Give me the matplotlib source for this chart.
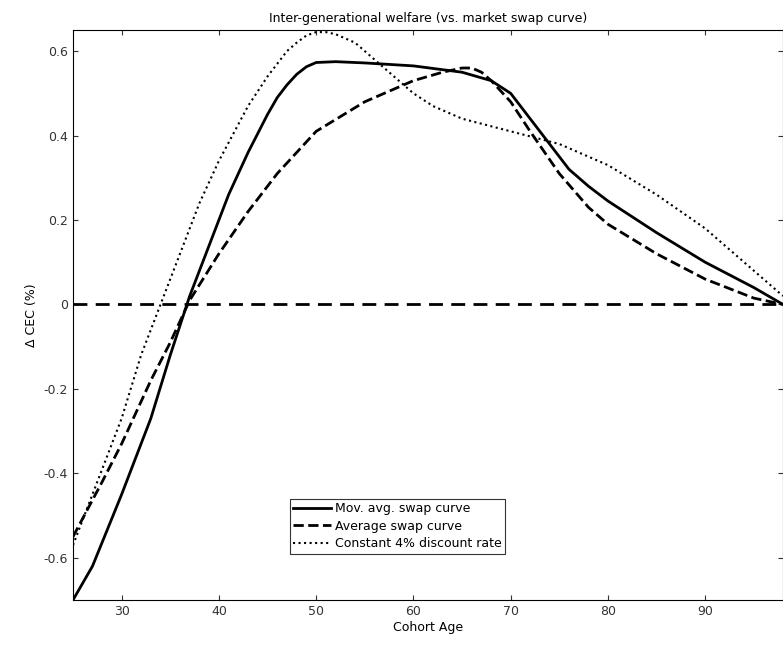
import matplotlib
matplotlib.use("Agg")
import matplotlib.pyplot as plt

mov_x = [25,27,30,33,35,37,39,41,43,45,46,47,48,49,50,52,55,60,65,68,70,72,74,76,78,80,85,90,95,98]
mov_y = [-0.70,-0.62,-0.45,-0.27,-0.12,0.02,0.14,0.26,0.36,0.45,0.49,0.52,0.545,0.563,0.573,0.575,0.572,0.565,0.55,0.53,0.50,0.44,0.38,0.32,0.28,0.245,0.17,0.10,0.04,0.0]
avg_x = [25,28,30,33,35,37,40,43,46,50,55,60,63,65,66,67,68,70,72,75,78,80,85,90,95,98]
avg_y = [-0.55,-0.42,-0.33,-0.18,-0.09,0.01,0.12,0.22,0.31,0.41,0.48,0.53,0.55,0.56,0.56,0.55,0.53,0.48,0.41,0.31,0.23,0.19,0.12,0.06,0.015,0.0]
con_x = [25,27,30,32,34,36,38,40,43,45,46,47,48,49,50,51,52,54,56,58,60,62,65,70,75,80,85,90,95,98]
con_y = [-0.57,-0.45,-0.27,-0.12,0.0,0.12,0.24,0.34,0.47,0.54,0.57,0.60,0.62,0.637,0.645,0.645,0.64,0.62,0.58,0.54,0.50,0.47,0.44,0.41,0.38,0.33,0.26,0.18,0.08,0.02]

fig = plt.figure(figsize=(7.83,6.46), dpi=100)
ax = fig.add_axes([73/783, 46/646, 710/783, 570/646])
ax.plot(mov_x, mov_y, 'k-', lw=2, label='Mov. avg. swap curve', solid_joinstyle='round')
ax.plot(avg_x, avg_y, 'k--', lw=2, label='Average swap curve')
ax.plot(con_x, con_y, 'k:', lw=1.5, label='Constant 4% discount rate')
ax.axhline(0, color='k', ls='--', lw=2, dashes=(5,3))
ax.set_xlim(25,98)
ax.set_ylim(-0.7,0.65)
ax.set_xticks([30,40,50,60,70,80,90])
ax.set_yticks([-0.6,-0.4,-0.2,0,0.2,0.4,0.6])
ax.set_yticklabels(['-0.6','-0.4','-0.2','0','0.2','0.4','0.6'])
ax.tick_params(direction='in', labelsize=9, colors='#333333', top=True, right=True)
ax.set_xlabel('Cohort Age', fontsize=9, labelpad=2)
ax.set_ylabel('Δ CEC (%)', fontsize=9)
ax.set_title('Inter-generational welfare (vs. market swap curve)', fontsize=9)
leg = ax.legend(loc='lower center', bbox_to_anchor=(0.457,0.07), fontsize=9, fancybox=False,
                edgecolor='k', handlelength=3, handletextpad=0.3, labelspacing=0.35, borderpad=0.3)
leg.get_frame().set_linewidth(0.8)
fig.savefig('out.png', dpi=100)
